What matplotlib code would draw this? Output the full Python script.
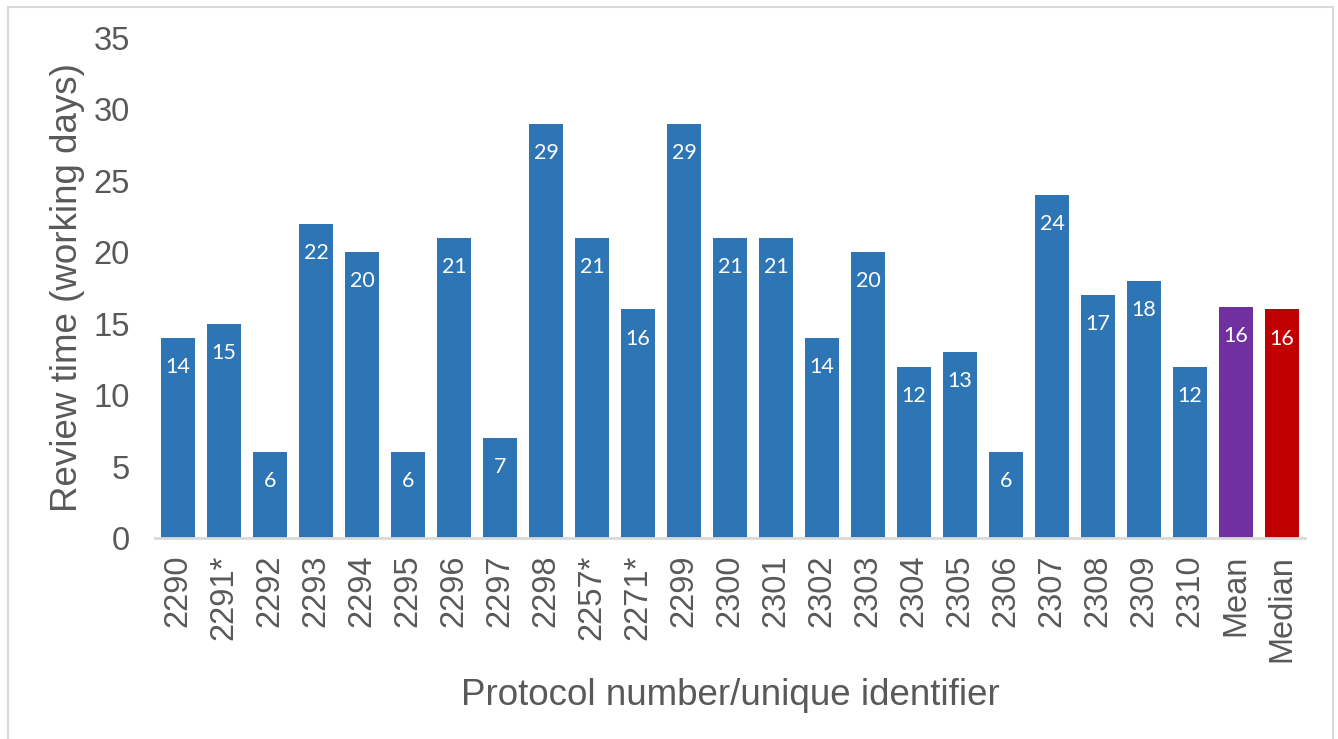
import matplotlib.pyplot as plt
from matplotlib.patches import Rectangle

# review time per protocol, plus summary bars
protocols = ['2290', '2291*', '2292', '2293', '2294', '2295', '2296', '2297', '2298',
             '2257*', '2271*', '2299', '2300', '2301', '2302', '2303', '2304', '2305',
             '2306', '2307', '2308', '2309', '2310', 'Mean', 'Median']
days = [14, 15, 6, 22, 20, 6, 21, 7, 29, 21, 16, 29, 21, 21, 14, 20, 12, 13, 6, 24,
        17, 18, 12, 16.2, 16]
colors = ['#2E75B6'] * 23 + ['#7030A0', '#C00000']

plt.rcParams['font.family'] = ['Liberation Sans', 'DejaVu Sans']
grey = '#595959'

fig = plt.figure(figsize=(13.38, 7.39), dpi=100)
ax = fig.add_axes([155 / 1338, 1 - 538 / 739, 1150 / 1338, 500 / 739])

x = range(len(days))
bars = ax.bar(x, days, width=0.74, color=colors, zorder=2)

for b, v in zip(bars, days):
    ax.annotate(f'{v:.0f}', (b.get_x() + b.get_width() / 2, v),
                xytext=(0, -21), textcoords='offset points',
                ha='center', va='center', color='white', fontsize=15.5,
                family=['Lato', 'DejaVu Sans'])

ax.set_xlim(-0.5, len(days) - 0.5)
ax.set_ylim(0, 35)
ax.set_yticks(range(0, 36, 5))
ax.set_xticks(list(x))
ax.set_xticklabels(protocols, rotation=90)
ax.tick_params(axis='both', length=0, labelsize=23.5, labelcolor=grey)
ax.tick_params(axis='y', pad=18)
ax.tick_params(axis='x', pad=12)

for s in ['top', 'right', 'left']:
    ax.spines[s].set_visible(False)
ax.spines['bottom'].set_color('#d9d9d9')
ax.spines['bottom'].set_linewidth(2)

ax.set_ylabel('Review time (working days)', fontsize=26.5, color=grey, labelpad=6)
ax.set_xlabel('Protocol number/unique identifier', fontsize=26.5, color=grey, labelpad=12)

# chart area frame
fig.patches.append(Rectangle((8 / 1338, -0.01), 1325 / 1338, 1 - 7 / 739 + 0.01,
                             transform=fig.transFigure, fill=False,
                             edgecolor='#d9d9d9', linewidth=1.5))

fig.savefig('out.png', dpi=100)
